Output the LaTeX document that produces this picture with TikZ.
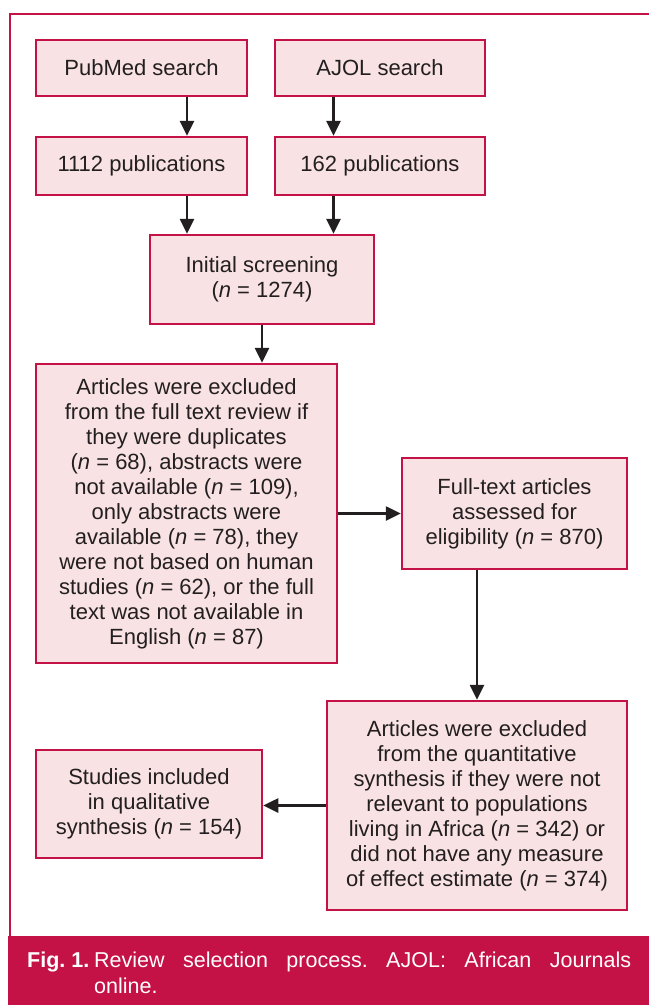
\documentclass[tikz,border=0pt]{standalone}
\usepackage{fontspec}
\setmainfont{Liberation Sans}
\usetikzlibrary{arrows.meta}
\definecolor{crim}{RGB}{197,18,70}
\definecolor{boxfill}{RGB}{248,226,227}
\definecolor{ink}{RGB}{35,31,32}
\tikzset{
  flowbox/.style={draw=crim, fill=boxfill, line width=2.5pt, align=center, text=ink,
    font=\fontsize{22}{25}\selectfont, inner sep=0pt},
  arr/.style={draw=ink, line width=2.6pt, -{Triangle[length=15pt,width=14pt]}},
}
\newcommand{\nn}{\textit{n}}
\begin{document}
\begin{tikzpicture}[x=1pt,y=-1pt]
\useasboundingbox (0,0) rectangle (649,1005);
% frame and caption band
\draw[crim, line width=2.5pt] (649,14) -- (10,14) -- (10,1005);
\fill[crim] (8,936) rectangle (649,1005);
\node[anchor=base west, text width=604pt, inner sep=0pt, text=white, align=justify,
      font=\fontsize{21.5}{26}\selectfont] (cap) at (27,967)
  {\frenchspacing\tolerance=10000\hyphenpenalty=10000\hangindent=67pt\hangafter=1
   \makebox[67pt][l]{\textbf{Fig. 1.}}Review selection process. AJOL: African Journals\linebreak online.\par};
% boxes
\node[flowbox, minimum width=211pt, minimum height=56pt] (pub) at (141.5,68) {PubMed search};
\node[flowbox, minimum width=210pt, minimum height=56pt] (ajol) at (380,68) {AJOL search};
\node[flowbox, minimum width=211pt, minimum height=58pt] (p1112) at (141.5,166) {1112 publications};
\node[flowbox, minimum width=210pt, minimum height=58pt] (p162) at (380,166) {162 publications};
\node[flowbox, minimum width=224pt, minimum height=89pt] (init) at (262,279.5) {Initial screening\\(\nn{} = 1274)};
\node[flowbox, minimum width=301pt, minimum height=299pt] (big) at (186.5,513.5)
  {Articles were excluded\\from the full text review if\\they were duplicates\\(\nn{} = 68), abstracts were\\not available (\nn{} = 109),\\only abstracts were\\available (\nn{} = 78), they\\were not based on human\\studies (\nn{} = 62), or the full\\text was not available in\\English (\nn{} = 87)};
\node[flowbox, minimum width=225pt, minimum height=111pt] (full) at (514.5,513.5)
  {Full-text articles\\assessed for\\eligibility (\nn{} = 870)};
\node[flowbox, minimum width=300pt, minimum height=209pt] (quant) at (477,805.5)
  {Articles were excluded\\from the quantitative\\synthesis if they were not\\relevant to populations\\living in Africa (\nn{} = 342) or\\did not have any measure\\of effect estimate (\nn{} = 374)};
\node[flowbox, minimum width=226pt, minimum height=108pt] (stud) at (149,804)
  {Studies included\\in qualitative\\synthesis (\nn{} = 154)};
% arrow columns
\coordinate (cl) at (187,0);
\coordinate (cr) at (333.5,0);
\draw[arr] (pub.south -| cl) -- (p1112.north -| cl);
\draw[arr] (ajol.south -| cr) -- (p162.north -| cr);
\draw[arr] (p1112.south -| cl) -- (init.north -| cl);
\draw[arr] (p162.south -| cr) -- (init.north -| cr);
\draw[arr] (init.south) -- (big.north -| init.south);
\draw[arr] (big.east) -- (full.west);
\draw[arr] (full.south -| quant.north) -- (quant.north);
\draw[arr] (quant.west) -- (stud.east |- quant.west);
\end{tikzpicture}
\end{document}
